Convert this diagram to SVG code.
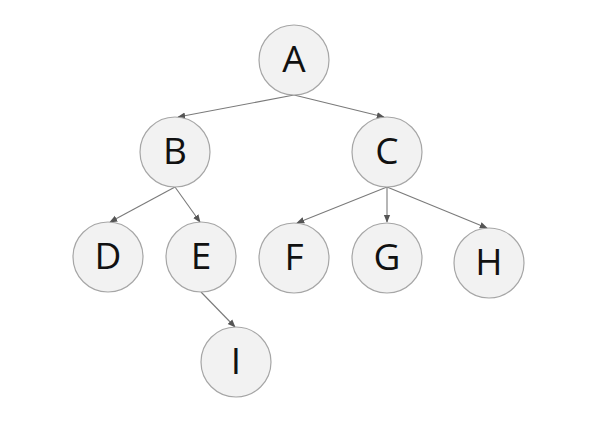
<svg xmlns="http://www.w3.org/2000/svg" width="607" height="427" viewBox="0 0 607 427">
<style>
.n circle{fill:#f2f2f2;stroke:#a6a6a6;stroke-width:1.2}
.n text{font-family:"Open Sans","Liberation Sans",sans-serif;font-size:37px;fill:#111;text-anchor:middle}
.e line{stroke:#7a7a7a;stroke-width:1.1;marker-end:url(#ah)}
</style>
<defs>
<marker id="ah" viewBox="0 0 10 10" refX="9" refY="5" markerWidth="8" markerHeight="8" markerUnits="userSpaceOnUse" orient="auto">
<path d="M0,1 L10,5 L0,9 z" fill="#555"/>
</marker>
</defs>
<rect width="607" height="427" fill="#fff"/>
<g id="connectors" class="e">
<line x1="294" y1="95" x2="178" y2="117"/>
<line x1="294" y1="95" x2="384" y2="117"/>
<line x1="175" y1="187" x2="110" y2="222"/>
<line x1="175" y1="187" x2="200" y2="222"/>
<line x1="201" y1="292" x2="235" y2="327"/>
<line x1="387" y1="187" x2="297" y2="223"/>
<line x1="387" y1="187" x2="387" y2="222"/>
<line x1="387" y1="187" x2="487" y2="228"/>
</g>
<g id="A" class="n"><circle cx="294" cy="60" r="35"/><text x="294" y="72">A</text></g>
<g id="B" class="n"><circle cx="175" cy="152" r="35"/><text x="175" y="164">B</text></g>
<g id="C" class="n"><circle cx="387" cy="152" r="35"/><text x="387" y="164">C</text></g>
<g id="D" class="n"><circle cx="108" cy="257" r="35"/><text x="108" y="269">D</text></g>
<g id="E" class="n"><circle cx="201" cy="257" r="35"/><text x="201" y="269">E</text></g>
<g id="F" class="n"><circle cx="294" cy="258" r="35"/><text x="294" y="270">F</text></g>
<g id="G" class="n"><circle cx="387" cy="258" r="35"/><text x="387" y="270">G</text></g>
<g id="H" class="n"><circle cx="489" cy="263" r="35"/><text x="489" y="275">H</text></g>
<g id="I" class="n"><circle cx="236" cy="362" r="35"/><text x="236" y="374">I</text></g>
</svg>
